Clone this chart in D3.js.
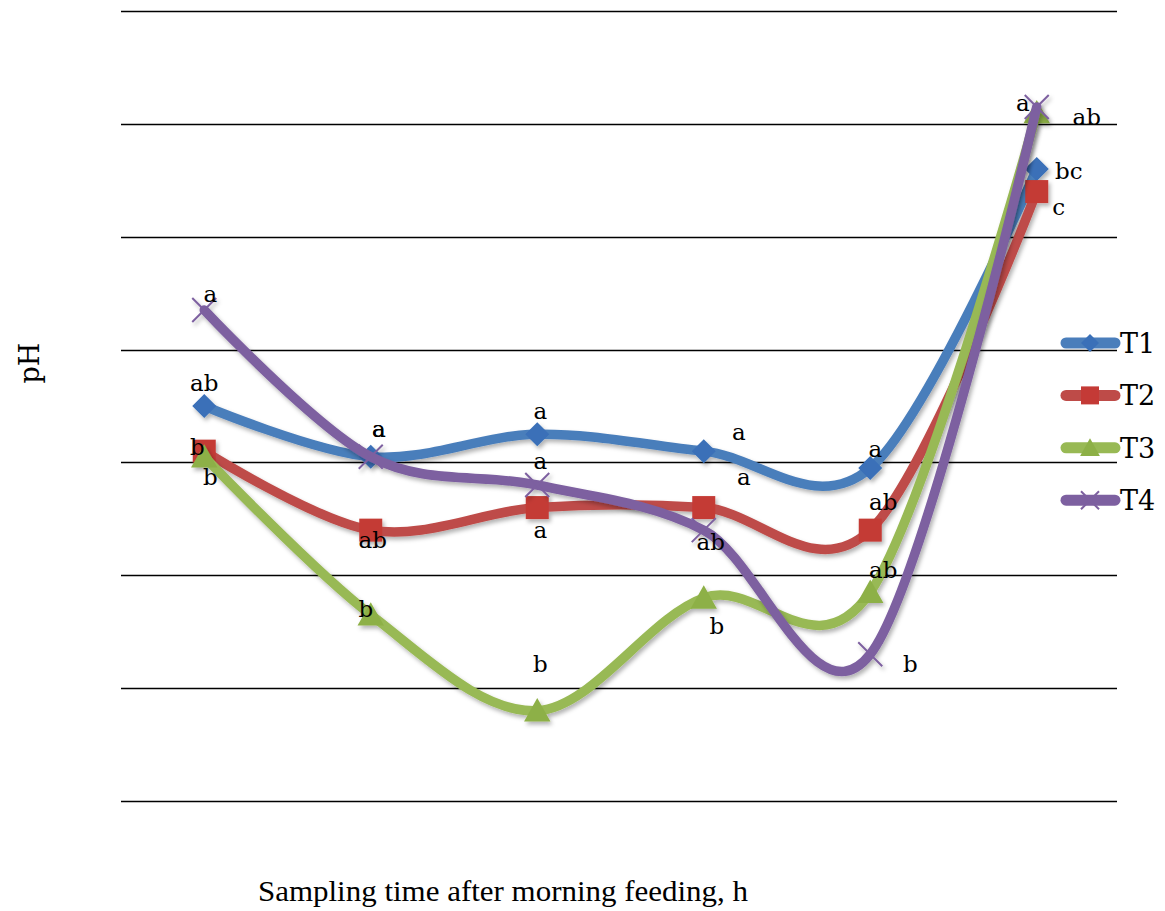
<!DOCTYPE html>
<html>
<head>
<meta charset="utf-8">
<script src="https://cdn.jsdelivr.net/npm/d3@7"></script>
<style>
  body { margin: 0; background: #fff; }
</style>
</head>
<body>
<div id="chart"></div>
<script>
const width = 1165;
const height = 911;

// sampling points (no tick labels shown on the original)
const timePoints = ["0", "1", "2", "3", "4", "5"];
const seriesNames = ["T1", "T2", "T3", "T4"];

// pH values
const T1 = [6.50, 6.41, 6.45, 6.42, 6.39, 6.92];
const T2 = [6.42, 6.28, 6.32, 6.32, 6.28, 6.88];
const T3 = [6.41, 6.13, 5.96, 6.16, 6.17, 7.02];
const T4 = [6.67, 6.41, 6.36, 6.28, 6.06, 7.03];

// significance letters
const T1_sig = ["ab", "a", "a", "a", "a", "bc"];
const T2_sig = ["b", "ab", "a", "a", "ab", "c"];
const T3_sig = ["b", "b", "b", "b", "ab", "ab"];
const T4_sig = ["a", "a", "a", "ab", "b", "a"];

const gridTicks = [5.8, 6.0, 6.2, 6.4, 6.6, 6.8, 7.0, 7.2];

// where each letter sits relative to its point (px)
const labelOffsets = [
  [[0, -23], [8, -26], [3, -22], [35, -18], [5, -18], [32, 2]],
  [[-7, -4], [2, 10], [3, 24], [40, -29], [13, -28], [22, 17]],
  [[6, 20], [-5, -6], [3, -47], [13, 28], [13, -22], [50, 4]],
  [[6, -15], [8, -26], [3, -22], [7, 12], [40, 9], [-14, -2]]
];

const series = [T1, T2, T3, T4];
const sigs = [T1_sig, T2_sig, T3_sig, T4_sig];
const lineColors = ["#4A7EBB", "#BE4B48", "#98B954", "#7D60A0"];
const markColors = ["#3A70B8", "#C43A36", "#8DB046", "#7D60A0"];
const shapes = ["diamond", "square", "triangle", "cross"];

const svg = d3.select("#chart")
  .append("svg")
  .attr("width", width)
  .attr("height", height);

const defs = svg.append("defs");
defs.append("filter")
  .attr("id", "shadow")
  .attr("x", "-20%").attr("y", "-20%")
  .attr("width", "140%").attr("height", "140%")
  .append("feDropShadow")
  .attr("dx", 2).attr("dy", 3)
  .attr("stdDeviation", 2)
  .attr("flood-color", "#000")
  .attr("flood-opacity", 0.3);

const x = d3.scaleBand()
  .domain(timePoints)
  .range([121, 1120])
  .paddingInner(0)
  .paddingOuter(0);

const y = d3.scaleLinear()
  .domain([5.8, 7.2])
  .range([801, 11]);

const cx = d => x(d) + x.bandwidth() / 2;

// horizontal grid lines
svg.append("g")
  .selectAll("line")
  .data(gridTicks)
  .join("line")
  .attr("x1", 121)
  .attr("x2", 1117)
  .attr("y1", d => Math.round(y(d)) + 0.5)
  .attr("y2", d => Math.round(y(d)) + 0.5)
  .attr("stroke", "#000")
  .attr("stroke-width", 1.6);

function markerPath(shape, s) {
  if (shape === "diamond") return `M0,${-s}L${s},0L0,${s}L${-s},0Z`;
  if (shape === "square") return `M${-s},${-s}H${s}V${s}H${-s}Z`;
  if (shape === "triangle") return `M0,${-s * 1.05}L${s * 1.1},${s * 0.9}H${-s * 1.1}Z`;
  return `M${-s},${-s}L${s},${s}M${-s},${s}L${s},${-s}`;
}

function drawMarker(g, shape, i, s) {
  const p = g.append("path").attr("d", markerPath(shape, s));
  if (shape === "cross") {
    p.attr("fill", "none").attr("stroke", markColors[i]).attr("stroke-width", 2);
  } else {
    p.attr("fill", markColors[i]);
  }
  return p;
}

const line = d3.line()
  .x((d, j) => cx(timePoints[j]))
  .y(d => y(d))
  .curve(d3.curveCardinal.tension(0));

// series lines with markers
series.forEach((vals, i) => {
  const g = svg.append("g").attr("filter", "url(#shadow)");
  g.append("path")
    .datum(vals)
    .attr("d", line)
    .attr("fill", "none")
    .attr("stroke", lineColors[i])
    .attr("stroke-width", 9.5)
    .attr("stroke-linecap", "round");
  vals.forEach((v, j) => {
    const m = g.append("g").attr("transform", `translate(${cx(timePoints[j])},${y(v)})`);
    drawMarker(m, shapes[i], i, shapes[i] === "square" ? 11.5 : 12);
  });
});

// significance letters
const labels = svg.append("g")
  .attr("font-family", "DejaVu Serif, serif")
  .attr("font-size", 23)
  .attr("fill", "#000")
  .attr("text-anchor", "middle");
sigs.forEach((arr, i) => {
  arr.forEach((t, j) => {
    const [dx, dy] = labelOffsets[i][j];
    labels.append("text")
      .attr("x", cx(timePoints[j]) + dx)
      .attr("y", y(series[i][j]) + dy)
      .attr("dy", t.includes("b") ? "0.36em" : "0.28em")
      .text(t);
  });
});

// legend
const legend = svg.append("g");
seriesNames.forEach((name, i) => {
  const ly = 343 + i * 52.4;
  const g = legend.append("g").attr("transform", `translate(0,${ly})`);
  g.append("line")
    .attr("x1", 1066).attr("x2", 1115)
    .attr("stroke", lineColors[i])
    .attr("stroke-width", 11)
    .attr("stroke-linecap", "round");
  const m = g.append("g").attr("transform", "translate(1090,0)");
  drawMarker(m, shapes[i], i, 9);
  g.append("text")
    .attr("x", 1120)
    .attr("y", 0)
    .attr("dy", "0.36em")
    .attr("font-family", "DejaVu Serif, serif")
    .attr("font-size", 27)
    .text(name);
});

// axis titles
svg.append("text")
  .attr("transform", "translate(39,363) rotate(-90)")
  .attr("text-anchor", "middle")
  .attr("font-family", "DejaVu Serif, serif")
  .attr("font-size", 27)
  .text("pH");

svg.append("text")
  .attr("x", 258)
  .attr("y", 901)
  .attr("font-family", "'Liberation Serif', serif")
  .attr("font-size", 30)
  .attr("textLength", 490)
  .attr("lengthAdjust", "spacingAndGlyphs")
  .text("Sampling time after morning feeding, h");
</script>
</body>
</html>
